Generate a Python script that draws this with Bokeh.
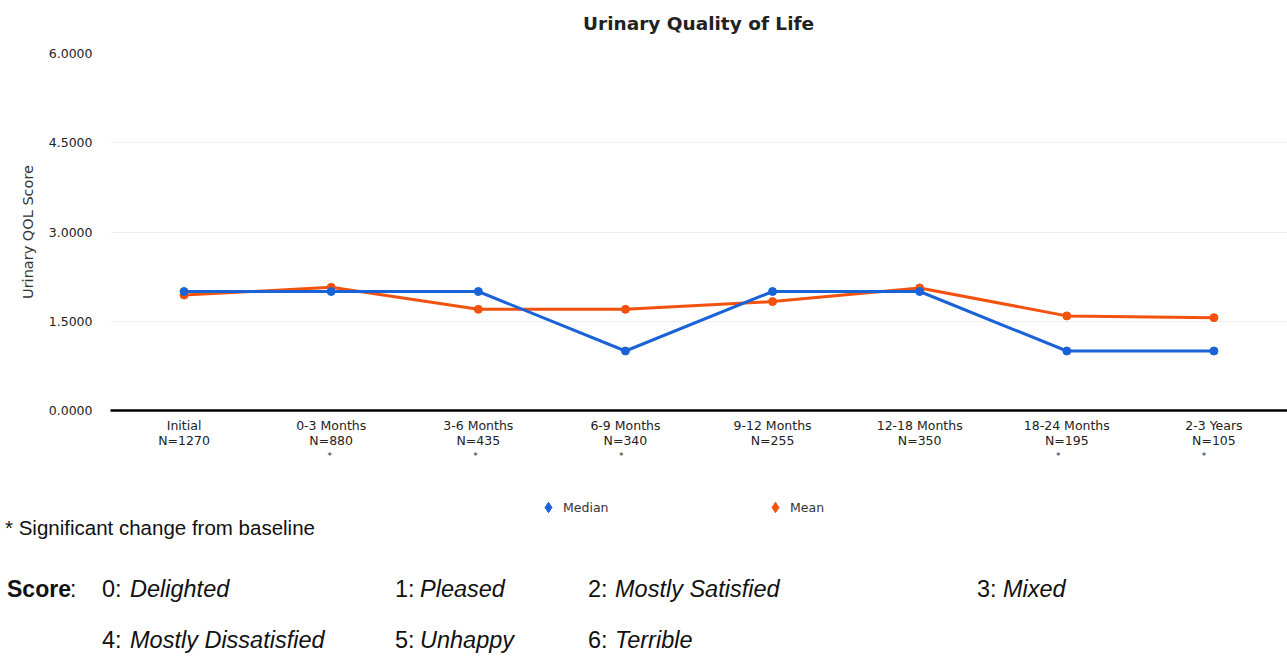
from bokeh.plotting import figure
from bokeh.models import (FactorRange, Range1d, Legend, LegendItem, FixedTicker,
                          NumeralTickFormatter, ColumnDataSource, CategoricalAxis, Div)
from bokeh.layouts import column
from bokeh.embed import file_html
from bokeh.resources import INLINE

# ---------------- data ----------------
title_text = "Urinary Quality of Life"
categories = ["Initial", "0-3 Months", "3-6 Months", "6-9 Months",
              "9-12 Months", "12-18 Months", "18-24 Months", "2-3 Years"]
n_values = [1270, 880, 435, 340, 255, 350, 195, 105]
significant = [False, True, True, True, False, False, True, True]
median_vals = [2.0, 2.0, 2.0, 1.0, 2.0, 2.0, 1.0, 1.0]
mean_vals = [1.94, 2.07, 1.70, 1.70, 1.83, 2.06, 1.59, 1.56]
y_ticks = [0, 1.5, 3.0, 4.5, 6.0]

footnote = "* Significant change from baseline"
score_numbers = ["0:", "1:", "2:", "3:", "4:", "5:", "6:"]
score_words = ["Delighted", "Pleased", "Mostly Satisfied", "Mixed",
               "Mostly Dissatisfied", "Unhappy", "Terrible"]

# ---------------- layout constants (page px) ----------------
MEDIAN_C = "#1a63d6"
MEAN_C = "#f2520e"
FONT = "DejaVu Sans"
W = 1287
H0 = 40                      # title strip (incl. the Div's own 10px of padding)
FL, FT, FB = 110, 53, 410    # frame left / top / bottom
Y1 = 463                     # bottom of main chart
Y2 = 520                     # bottom of legend strip
H1 = Y1 - H0
H2 = Y2 - Y1
H3 = 660 - Y2
PAD = 10                     # extra height a Div adds to itself
DX, DY = -5, -4.5            # compensation for the Div's own offset

def span(text, x, top, size, family, weight="normal", style="normal", color="#111"):
    return (f'<span style="position:absolute;left:{x + DX}px;top:{top + DY:.1f}px;'
            f'font-family:{family};font-size:{size}px;'
            f'line-height:1;white-space:nowrap;color:{color};font-weight:{weight};'
            f'font-style:{style};">{text}</span>')

# ---------------- title strip ----------------
title_div = Div(text=f'<div style="position:relative;width:{W}px;height:{H0 - PAD}px;">'
                     + span(title_text, 583, 23 - 0.481 * 18.5, 18.5,
                            "'DejaVu Sans',sans-serif", weight="bold", color="#222")
                     + "</div>",
                width=W, height=H0 - PAD)

# ---------------- main chart ----------------
p = figure(x_range=FactorRange(*categories), y_range=Range1d(0, 6),
           width=W, height=H1, output_backend="svg", toolbar_location=None,
           min_border_left=FL, min_border_right=0, min_border_top=FT - H0,
           min_border_bottom=Y1 - FB)
p.outline_line_color = None
p.background_fill_color = "white"

src = ColumnDataSource(dict(x=categories, median=median_vals, mean=mean_vals))

p.line("x", "mean", source=src, line_color=MEAN_C, line_width=3)
p.scatter("x", "mean", source=src, marker="circle", size=8,
          fill_color=MEAN_C, line_color=MEAN_C)
p.line("x", "median", source=src, line_color=MEDIAN_C, line_width=3)
p.scatter("x", "median", source=src, marker="circle", size=8,
          fill_color=MEDIAN_C, line_color=MEDIAN_C)

# y axis
p.yaxis.ticker = FixedTicker(ticks=y_ticks)
p.yaxis.formatter = NumeralTickFormatter(format="0.0000")
p.yaxis.axis_line_color = None
p.yaxis.major_tick_line_color = None
p.yaxis.minor_tick_line_color = None
p.yaxis.major_tick_out = 0
p.yaxis.major_tick_in = 0
p.yaxis.major_label_text_font = FONT
p.yaxis.major_label_text_font_size = "12.5px"
p.yaxis.major_label_text_color = "#222222"
p.yaxis.major_label_standoff = 18
p.yaxis.axis_label = "Urinary QOL Score"
p.yaxis.axis_label_text_font = FONT
p.yaxis.axis_label_text_font_size = "14.5px"
p.yaxis.axis_label_text_font_style = "normal"
p.yaxis.axis_label_text_color = "#333333"
p.yaxis.axis_label_standoff = 10

# x axis: category names, plus stacked axes (own factor ranges) for N and marks
n_labels = [f"N={n}" for n in n_values]
sig_labels = [("*" if s else "") + " " * i for i, s in enumerate(significant)]
p.extra_x_ranges = {"n": FactorRange(*n_labels), "sig": FactorRange(*sig_labels)}

def style_x(ax, standoff, size="12.5px"):
    ax.major_tick_line_color = None
    ax.minor_tick_line_color = None
    ax.major_tick_out = 0
    ax.major_tick_in = 0
    ax.major_label_text_font = FONT
    ax.major_label_text_font_size = size
    ax.major_label_text_color = "#222222"
    ax.major_label_standoff = standoff

xa = p.xaxis[0]
style_x(xa, 7)
xa.axis_line_color = "black"
xa.axis_line_width = 2.5

ax_n = CategoricalAxis(x_range_name="n")
style_x(ax_n, -3)
ax_n.axis_line_color = None
p.add_layout(ax_n, "below")

ax_s = CategoricalAxis(x_range_name="sig")
style_x(ax_s, 0, "9px")
ax_s.axis_line_color = None
p.add_layout(ax_s, "below")

p.xgrid.visible = False
p.ygrid.grid_line_color = "#eeeeee"
p.ygrid.grid_line_width = 1

# ---------------- legend strip ----------------
pl = figure(width=W, height=H2, x_range=Range1d(0, 1), y_range=Range1d(0, 1),
            output_backend="svg", toolbar_location=None,
            x_axis_location=None, y_axis_location=None,
            min_border_left=FL, min_border_right=0, min_border_top=0,
            min_border_bottom=0)
pl.grid.visible = False
pl.outline_line_color = None

# legend proxies: one point each, placed outside the strip's visible range
d_med = pl.scatter(x=[-1], y=[-1], marker="diamond", size=12, angle=1.5708,
                   fill_color=MEDIAN_C, line_color=MEDIAN_C)
d_mean = pl.scatter(x=[-1], y=[-1], marker="diamond", size=12, angle=1.5708,
                    fill_color=MEAN_C, line_color=MEAN_C)

GW = 26
legend = Legend(items=[LegendItem(label="Median", renderers=[d_med]),
                       LegendItem(label="Mean", renderers=[d_mean])],
                orientation="horizontal", location=(548 - GW // 2 - FL, 0),
                spacing=139, label_width=60, glyph_width=GW, glyph_height=GW,
                label_standoff=2, padding=0, margin=0,
                border_line_color=None, background_fill_alpha=0,
                label_text_font=FONT, label_text_font_size="12.5px",
                label_text_color="#333333")
pl.add_layout(legend, "center")

# ---------------- footer (HTML text) ----------------
AR = "'Liberation Sans',Arial,sans-serif"
def foot(text, x, baseline, size, **kw):
    return span(text, x, baseline - 0.8465 * size - Y2, size, AR, **kw)

parts = [foot(footnote, 5, 535, 20.5),
         foot("Score", 7, 597, 23, weight="bold"),
         foot(":", 70, 597, 23)]
num_x = [102, 395, 588, 977, 102, 395, 588]
word_x = [130, 420, 615, 1003, 130, 420, 615]
row_base = [597, 597, 597, 597, 648, 648, 648]
for t, xx, yy in zip(score_numbers, num_x, row_base):
    parts.append(foot(t, xx, yy, 23.5))
for t, xx, yy in zip(score_words, word_x, row_base):
    parts.append(foot(t, xx, yy, 23.5, style="italic"))

footer = Div(text=f'<div style="position:relative;width:{W}px;height:{H3 - PAD}px;">'
                  + "".join(parts) + "</div>",
             width=W, height=H3 - PAD)

layout = column(title_div, p, pl, footer, spacing=0)
open("out.html", "w").write(file_html(layout, INLINE))
